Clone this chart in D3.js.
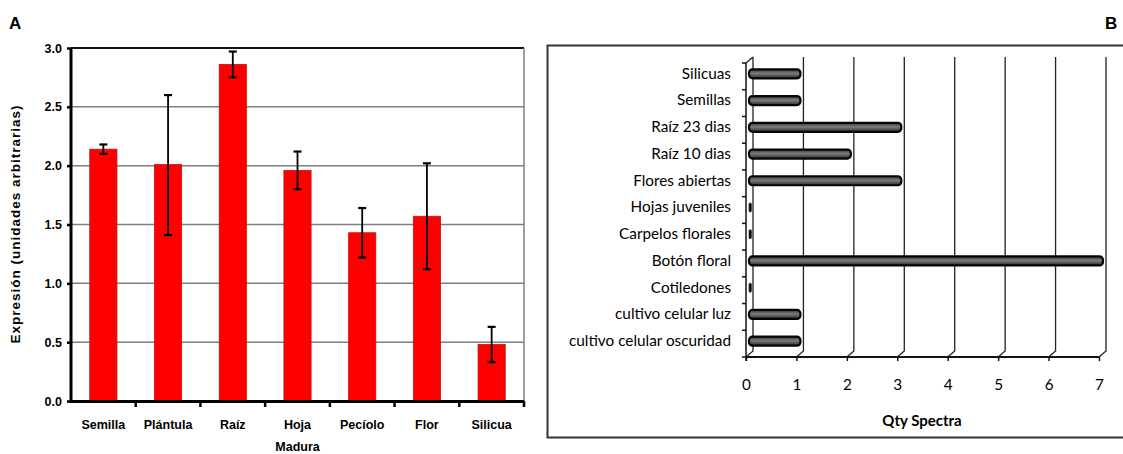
<!DOCTYPE html>
<html>
<head>
<meta charset="utf-8">
<script src="https://cdn.jsdelivr.net/npm/d3@7"></script>
<style>
  html, body { margin: 0; padding: 0; background: #fff; }
  svg { display: block; }
</style>
</head>
<body>
<svg id="fig" width="1123" height="454"></svg>
<script>
// Panel A: relative expression by tissue (mean with error range)
const tissues = ["Semilla", "Plántula", "Raíz", "Hoja|Madura", "Pecíolo", "Flor", "Silicua"];
const expression = [2.14, 2.01, 2.86, 1.96, 1.43, 1.57, 0.48];
const errLow = [2.10, 1.41, 2.75, 1.80, 1.22, 1.12, 0.33];
const errHigh = [2.18, 2.60, 2.97, 2.12, 1.64, 2.02, 0.63];
const yTicksA = [0, 0.5, 1.0, 1.5, 2.0, 2.5, 3.0];

// Panel B: spectra counts by sample
const samples = ["Silicuas", "Semillas", "Raíz 23 dias", "Raíz 10 dias", "Flores abiertas",
  "Hojas juveniles", "Carpelos florales", "Botón floral", "Cotiledones",
  "cultivo celular luz", "cultivo celular oscuridad"];
const spectra = [1, 1, 3, 2, 3, 0, 0, 7, 0, 1, 1];
const xTicksB = [0, 1, 2, 3, 4, 5, 6, 7];

const svg = d3.select("#fig");
svg.append("rect").attr("width", 1123).attr("height", 454).attr("fill", "#fff");

// ---------- Panel A ----------
const A = svg.append("g").attr("font-family", "'Liberation Sans', Arial, sans-serif");
const yA = d3.scaleLinear().domain([0, 3]).range([401, 48]);
const xA = d3.scaleBand().domain(tissues).range([71, 524]).padding(0);
const barW = xA.bandwidth() * 0.42;

A.append("text").attr("x", 9).attr("y", 29).attr("font-size", 17).attr("font-weight", "bold").text("A");

// horizontal gridlines
A.selectAll("line.grid").data(yTicksA.filter(d => d > 0)).join("line")
  .attr("x1", 71).attr("x2", 524)
  .attr("y1", d => yA(d)).attr("y2", d => yA(d))
  .attr("stroke", d => d === 3 ? "#111" : "#7f7f7f")
  .attr("stroke-width", d => d === 3 ? 2 : 1.5);
A.append("line").attr("x1", 524).attr("x2", 524).attr("y1", yA(3)).attr("y2", yA(0))
  .attr("stroke", "#7f7f7f").attr("stroke-width", 1.5);

// bars
A.selectAll("rect.bar").data(tissues).join("rect")
  .attr("x", d => xA(d) + (xA.bandwidth() - barW) / 2)
  .attr("width", barW)
  .attr("y", (d, i) => yA(expression[i]))
  .attr("height", (d, i) => yA(0) - yA(expression[i]))
  .attr("fill", "#ff0000").attr("stroke", "#c81010").attr("stroke-width", 0.8);

// error bars
const eb = A.selectAll("g.err").data(tissues).join("g")
  .attr("transform", d => `translate(${xA(d) + xA.bandwidth() / 2},0)`);
eb.append("line").attr("y1", (d, i) => yA(errLow[i])).attr("y2", (d, i) => yA(errHigh[i]))
  .attr("stroke", "#000").attr("stroke-width", 1.8);
eb.append("line").attr("x1", -4).attr("x2", 4)
  .attr("y1", (d, i) => yA(errLow[i])).attr("y2", (d, i) => yA(errLow[i]))
  .attr("stroke", "#000").attr("stroke-width", 2.2);
eb.append("line").attr("x1", -4).attr("x2", 4)
  .attr("y1", (d, i) => yA(errHigh[i])).attr("y2", (d, i) => yA(errHigh[i]))
  .attr("stroke", "#000").attr("stroke-width", 2.2);

// y axis
const axA = A.append("g").attr("transform", "translate(71,0)")
  .call(d3.axisLeft(yA).tickValues(yTicksA).tickFormat(d3.format(".1f")).tickSize(4).tickPadding(5));
axA.select(".domain").attr("stroke", "#000").attr("stroke-width", 3).attr("d", `M0,${yA(3)}V${yA(0) + 1.5}`);
axA.selectAll(".tick line").attr("stroke-width", 2.5);
axA.selectAll(".tick text").attr("font-size", 12.5).attr("font-weight", "bold")
  .attr("font-family", "'Liberation Sans', Arial, sans-serif").attr("fill", "#000");

// x axis
const xLine = A.append("g");
xLine.append("line").attr("x1", 69.5).attr("x2", 524).attr("y1", 401.5).attr("y2", 401.5)
  .attr("stroke", "#000").attr("stroke-width", 3);
xLine.selectAll("line.tk").data(tissues.slice(1).concat(["end"])).join("line")
  .attr("x1", (d, i) => xA(tissues[0]) + xA.step() * (i + 1))
  .attr("x2", (d, i) => xA(tissues[0]) + xA.step() * (i + 1))
  .attr("y1", 401).attr("y2", 407).attr("stroke", "#000").attr("stroke-width", 2.5);
const xl = A.selectAll("text.xl").data(tissues).join("text")
  .attr("x", d => xA(d) + xA.bandwidth() / 2)
  .attr("y", 429).attr("text-anchor", "middle")
  .attr("font-size", 12.5).attr("font-weight", "bold");
xl.each(function (d) {
  const parts = d.split("|");
  d3.select(this).selectAll("tspan").data(parts).join("tspan")
    .attr("x", xA(d) + xA.bandwidth() / 2)
    .attr("dy", (p, j) => j === 0 ? 0 : 22)
    .text(p => p);
});

A.append("text").attr("transform", "translate(20,224) rotate(-90)")
  .attr("text-anchor", "middle").attr("font-size", 13.5).attr("font-weight", "bold")
  .attr("letter-spacing", 1)
  .text("Expresión (unidades arbitrarias)");

// ---------- Panel B ----------
const B = svg.append("g").attr("font-family", "Lato, 'Open Sans', sans-serif");
B.append("text").attr("x", 1105).attr("y", 29).attr("font-size", 17).attr("font-weight", "bold")
  .attr("font-family", "'Liberation Sans', Arial, sans-serif").text("B");

// frame
B.append("path").attr("d", "M1130,45.5H547.5V437.5H1130")
  .attr("fill", "none").attr("stroke", "#333").attr("stroke-width", 2);

const xB = d3.scaleLinear().domain([0, 7]).range([746, 1099]);
const yB = d3.scaleBand().domain(samples).range([63, 357]);
const dx = 7, dy = -6;
const yTop = yB.range()[0], yBot = yB.range()[1];

// back-wall gridlines with depth edges
B.selectAll("path.gl").data(xTicksB).join("path")
  .attr("d", d => `M${xB(d)},${yBot}L${xB(d) + dx},${yBot + dy}V${yTop + dy}`)
  .attr("fill", "none").attr("stroke", "#222").attr("stroke-width", 1.3);
// top depth edge of value axis
B.append("path").attr("d", `M${xB(0)},${yTop}L${xB(0) + dx},${yTop + dy}`)
  .attr("fill", "none").attr("stroke", "#222").attr("stroke-width", 1.3);

// cylinder-style bars
const defs = svg.append("defs");
const grad = defs.append("linearGradient").attr("id", "cyl").attr("x1", 0).attr("x2", 0).attr("y1", 0).attr("y2", 1);
grad.append("stop").attr("offset", "0%").attr("stop-color", "#333");
grad.append("stop").attr("offset", "45%").attr("stop-color", "#7d7d7d");
grad.append("stop").attr("offset", "100%").attr("stop-color", "#2a2a2a");

const bh = 9;
const mdx = dx / 2, mdy = dy / 2;
B.selectAll("rect.bb").data(samples).join("rect")
  .attr("x", d => xB(0) + mdx - 0.5)
  .attr("y", d => yB(d) + yB.bandwidth() / 2 + mdy - bh / 2 + 0.5)
  .attr("width", (d, i) => Math.max(xB(spectra[i]) - xB(0) + 1, 2.4))
  .attr("height", bh)
  .attr("rx", (d, i) => spectra[i] === 0 ? 1.2 : 3.5)
  .attr("fill", (d, i) => spectra[i] === 0 ? "#111" : "url(#cyl)")
  .attr("stroke", "#050505").attr("stroke-width", (d, i) => spectra[i] === 0 ? 0.6 : 2.2);

// category axis
B.append("line").attr("x1", xB(0)).attr("x2", xB(0)).attr("y1", yTop).attr("y2", yBot + 4)
  .attr("stroke", "#111").attr("stroke-width", 1.5);
B.selectAll("line.ct").data(d3.range(samples.length + 1)).join("line")
  .attr("x1", xB(0) - 4).attr("x2", xB(0))
  .attr("y1", i => yTop + yB.step() * i).attr("y2", i => yTop + yB.step() * i)
  .attr("stroke", "#111").attr("stroke-width", 1.5);
B.selectAll("text.cl").data(samples).join("text")
  .attr("x", 731).attr("y", d => yB(d) + yB.bandwidth() / 2 - 3)
  .attr("dy", "0.35em").attr("text-anchor", "end")
  .attr("font-size", 15.3).attr("fill", "#000").text(d => d);

// value axis
const axB = B.append("g").attr("transform", `translate(0,${yBot})`)
  .call(d3.axisBottom(xB).tickValues(xTicksB).tickFormat(d3.format("d")).tickSize(4).tickPadding(18));
axB.select(".domain").attr("stroke", "#111").attr("stroke-width", 2).attr("d", `M${xB(0)},0H${xB(7)}`);
axB.selectAll(".tick line").attr("stroke", "#111").attr("stroke-width", 1.5);
axB.selectAll(".tick text").attr("font-size", 15.3).attr("fill", "#000")
  .attr("font-family", "Lato, 'Open Sans', sans-serif");

B.append("text").attr("x", 922).attr("y", 426).attr("text-anchor", "middle")
  .attr("font-size", 15).attr("font-weight", "bold").attr("fill", "#000").text("Qty Spectra");
</script>
</body>
</html>
